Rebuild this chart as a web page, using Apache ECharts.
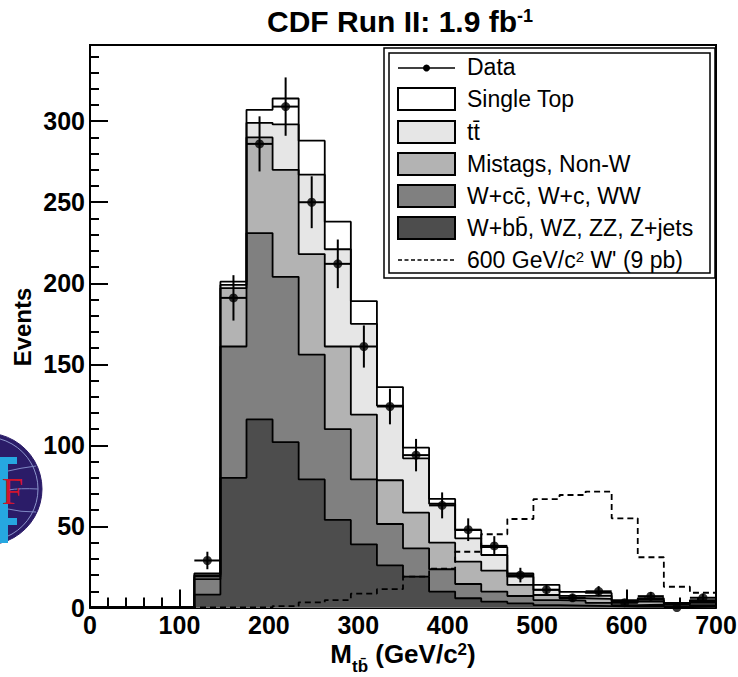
<!DOCTYPE html>
<html>
<head>
<meta charset="utf-8">
<script src="https://cdn.jsdelivr.net/npm/echarts@6/dist/echarts.min.js"></script>
<style>
html, body { margin: 0; padding: 0; background: #fff; }
#chart { width: 738px; height: 677px; }
</style>
</head>
<body>
<div id="chart"></div>
<script>
// Histogram binning: 24 bins over 0–700 GeV/c^2
const binEdges = [0, 29.17, 58.33, 87.5, 116.67, 145.83, 175, 204.17, 233.33, 262.5,
  291.67, 320.83, 350, 379.17, 408.33, 437.5, 466.67, 495.83, 525, 554.17,
  583.33, 612.5, 641.67, 670.83, 700];

// Background contributions per bin (events)
const wbbEtc    = [0, 0, 0, 0, 8, 80, 116, 102, 79, 54, 39, 26, 19, 9.8, 5.7, 3.6, 2.6, 1.5, 1.2, 0.8, 0.5, 0.5, 0.3, 0.4];
const wccEtc    = [0, 0, 0, 0, 9.5, 81, 115, 102, 77, 56, 40, 25.5, 17.5, 13.8, 8.8, 6.2, 4.5, 3.1, 3, 2, 1, 1.2, 0.6, 1];
const mistags   = [0, 0, 0, 0, 1.5, 36, 59, 66, 62, 51, 40, 27, 22, 16.4, 13.8, 12.9, 6.8, 3.1, 1.5, 2.5, 1.5, 2, 1, 1.5];
const ttbar     = [0, 0, 0, 0, 1, 2, 9, 28, 49, 60, 56, 46, 33.5, 24, 14.4, 9.7, 5.1, 3.2, 1.5, 2, 1, 1, 0.5, 1];
const singleTop = [0, 0, 0, 0, 1, 2, 8, 16, 21, 17, 14, 11.5, 6.6, 3, 5, 4.8, 2, 3.1, 2.5, 1.7, 0.6, 1, 0.4, 0.7];

// Observed events and their uncertainties (null = empty bin, no marker)
const dataCounts = [null, null, null, null, 29, 191, 286, 309, 250, 212, 161, 124, 94, 63, 48, 38, 20, 11, 6, 10, 3, 7, 0, 6];
const dataErrors = [0, 0, 0, 0, 5.4, 14, 17, 18, 16, 15, 13, 11, 10, 8, 7, 6, 4.5, 3.3, 2.4, 3.2, 1.7, 2.6, 0, 2.4];

// 600 GeV/c^2 W' signal template (9 pb)
const wPrime = [0, 0, 0, 0, 0, 0, 0, 0.9, 3.2, 4.6, 8.5, 11.3, 19, 24, 34.4, 45.2, 54.6, 66.8, 69.4, 71.5, 55, 31, 12.8, 9.1];

// Axis ticks
const xTicks = [0, 100, 200, 300, 400, 500, 600, 700];
const yTicks = [0, 50, 100, 150, 200, 250, 300];

// Legend entries
const legendLabels = ['Data', 'Single Top', 't{bar|t\u0304}', 'Mistags, Non-W',
  'W+c{bar|c\u0304}, W+c, WW', 'W+b{bar|b\u0304}, WZ, ZZ, Z+jets', "600 GeV/c{sup|2} W' (9 pb)"];

// Stack, bottom component first
const stackComponents = [wbbEtc, wccEtc, mistags, ttbar, singleTop];
const stackFills = ['#4d4d4d', '#808080', '#b3b3b3', '#e6e6e6', '#ffffff'];

const cumulative = [];
stackComponents.forEach((arr, k) => {
  cumulative.push(arr.map((v, i) => v + (k > 0 ? cumulative[k - 1][i] : 0)));
});

function stepPoints(vals) {
  const n = vals.length;
  const pts = [[binEdges[0], 0]];
  vals.forEach((v, i) => pts.push([binEdges[i], v]));
  pts.push([binEdges[n], vals[n - 1]]);
  pts.push([binEdges[n], 0]);
  return pts;
}

const series = [];
// draw the tallest cumulative histogram first so lower layers sit on top
for (let k = stackComponents.length - 1; k >= 0; k--) {
  series.push({
    type: 'line',
    step: 'end',
    z: 2,
    data: stepPoints(cumulative[k]),
    symbol: 'none',
    showSymbol: false,
    lineStyle: { color: '#000', width: 1.8 },
    areaStyle: { color: stackFills[k], opacity: 1 },
    silent: true,
    animation: false
  });
}

series.push({
  type: 'line',
  step: 'end',
  z: 6,
  data: stepPoints(wPrime),
  symbol: 'none',
  showSymbol: false,
  lineStyle: { color: '#000', width: 1.8, type: [6, 4] },
  silent: true,
  animation: false
});

const errRows = [];
const dotRows = [];
dataCounts.forEach((v, i) => {
  if (v === null) return;
  errRows.push([binEdges[i], binEdges[i + 1], v, dataErrors[i]]);
  dotRows.push([(binEdges[i] + binEdges[i + 1]) / 2, v]);
});

series.push({
  type: 'custom',
  z: 8,
  data: errRows,
  encode: { x: [0, 1], y: 2 },
  silent: true,
  animation: false,
  renderItem: function (params, api) {
    const lo = api.value(0), hi = api.value(1), y = api.value(2), e = api.value(3);
    const mid = (lo + hi) / 2;
    const a = api.coord([lo, y]);
    const b = api.coord([hi, y]);
    const t = api.coord([mid, y + e]);
    const d = api.coord([mid, y - e]);
    return {
      type: 'group',
      children: [
        { type: 'line', shape: { x1: a[0], y1: a[1], x2: b[0], y2: b[1] }, style: { stroke: '#000', lineWidth: 2 } },
        { type: 'line', shape: { x1: t[0], y1: t[1], x2: d[0], y2: d[1] }, style: { stroke: '#000', lineWidth: 2 } }
      ]
    };
  }
});

series.push({
  type: 'scatter',
  z: 9,
  data: dotRows,
  symbol: 'circle',
  symbolSize: 9,
  itemStyle: { color: '#000' },
  clip: false,
  silent: true,
  animation: false
});

const FONT = '"Liberation Sans", Arial, Helvetica, sans-serif';

// Legend block
const legendX = 398, legendW = 57, textX = 467;
const rowY = [67, 99, 132, 164, 196, 228, 260];
const legendGraphics = [
  { type: 'rect', shape: { x: 384, y: 48, width: 331, height: 230 }, style: { fill: '#fff', stroke: '#000', lineWidth: 1.5 }, z: 100 },
  { type: 'rect', shape: { x: 389, y: 53, width: 321, height: 220 }, style: { fill: 'none', stroke: '#000', lineWidth: 1.5 }, z: 101 },
  { type: 'line', shape: { x1: legendX, y1: rowY[0] + 1, x2: legendX + legendW, y2: rowY[0] + 1 }, style: { stroke: '#000', lineWidth: 1.5 }, z: 102 },
  { type: 'circle', shape: { cx: legendX + legendW / 2, cy: rowY[0] + 1, r: 3.5 }, style: { fill: '#000' }, z: 102 },
  { type: 'line', shape: { x1: legendX, y1: rowY[6], x2: legendX + legendW, y2: rowY[6] }, style: { stroke: '#000', lineWidth: 1.5, lineDash: [4, 2.5] }, z: 102 }
];
for (let r = 1; r <= 5; r++) {
  legendGraphics.push({
    type: 'rect',
    shape: { x: legendX, y: rowY[r] - 11, width: legendW, height: 22 },
    style: { fill: stackFills[5 - r], stroke: '#000', lineWidth: 2 },
    z: 102
  });
}
legendLabels.forEach((txt, r) => {
  legendGraphics.push({
    type: 'text',
    x: textX, y: rowY[r],
    style: {
      text: txt,
      fill: '#000',
      font: '23px ' + FONT,
      verticalAlign: 'middle',
      align: 'left',
      rich: {
        sup: { fontSize: 15, fontFamily: FONT, verticalAlign: 'top', lineHeight: 14 },
        bar: { fontSize: 23, fontFamily: FONT }
      }
    },
    z: 103
  });
});

// Experiment badge at the left margin
const badge = [
  { type: 'circle', shape: { cx: -14, cy: 489, r: 56 }, style: { fill: '#2b1c68', stroke: '#2b1c68', lineWidth: 1 }, z: 50 },
  { type: 'circle', shape: { cx: -14, cy: 489, r: 52 }, style: { fill: 'none', stroke: '#8d96cc', lineWidth: 1 }, z: 51 },
  { type: 'bezierCurve', shape: { x1: 8, y1: 471, cpx1: 20, cpy1: 468, x2: 36, y2: 466 }, style: { stroke: '#7f88c4', lineWidth: 1, fill: 'none' }, z: 51 },
  { type: 'bezierCurve', shape: { x1: 8, y1: 490, cpx1: 20, cpy1: 488, x2: 38, y2: 489 }, style: { stroke: '#7f88c4', lineWidth: 1, fill: 'none' }, z: 51 },
  { type: 'bezierCurve', shape: { x1: 8, y1: 509, cpx1: 20, cpy1: 512, x2: 36, y2: 512 }, style: { stroke: '#7f88c4', lineWidth: 1, fill: 'none' }, z: 51 },
  { type: 'rect', shape: { x: 0, y: 457, width: 17, height: 7 }, style: { fill: '#26a7e0' }, z: 52 },
  { type: 'rect', shape: { x: 0, y: 457, width: 8, height: 86 }, style: { fill: '#26a7e0' }, z: 52 },
  { type: 'rect', shape: { x: 0, y: 518, width: 17, height: 7 }, style: { fill: '#26a7e0' }, z: 52 },
  { type: 'text', x: 2, y: 491, style: { text: 'F', fill: '#d0142c', font: '38px "Liberation Serif", serif', verticalAlign: 'middle', align: 'left' }, z: 53 }
];

const titles = [
  {
    type: 'text', x: 400, y: 23,
    style: {
      text: '{a|CDF Run II: 1.9 fb}{s|-1}',
      align: 'center', verticalAlign: 'middle',
      rich: {
        a: { fontSize: 30, fontWeight: 'bold', fontFamily: FONT, lineHeight: 33, verticalAlign: 'top', fill: '#000' },
        s: { fontSize: 18, fontWeight: 'bold', fontFamily: FONT, lineHeight: 18, verticalAlign: 'top', fill: '#000' }
      }
    },
    z: 100
  },
  {
    type: 'text', x: 403, y: 656,
    style: {
      text: '{m|M}{sub|tb\u0304}{m| (GeV/c}{sup|2}{m|)}',
      align: 'center', verticalAlign: 'middle',
      rich: {
        m: { fontSize: 26, fontWeight: 'bold', fontFamily: FONT, lineHeight: 30, verticalAlign: 'top', fill: '#000' },
        sub: { fontSize: 17, fontWeight: 'bold', fontFamily: FONT, lineHeight: 17, padding: [17, 0, 0, 0], verticalAlign: 'top', fill: '#000' },
        sup: { fontSize: 17, fontWeight: 'bold', fontFamily: FONT, lineHeight: 17, verticalAlign: 'top', fill: '#000' }
      }
    },
    z: 100
  },
  {
    type: 'text', x: 22, y: 327, rotation: Math.PI / 2,
    style: { text: 'Events', font: 'bold 24px ' + FONT, fill: '#000', align: 'center', verticalAlign: 'middle' },
    z: 100
  }
];

const chart = echarts.init(document.getElementById('chart'), null, { renderer: 'svg' });
chart.setOption({
  animation: false,
  backgroundColor: '#fff',
  grid: {
    left: 90, top: 45, width: 626, height: 562.5,
    show: true, borderColor: '#000', borderWidth: 2, backgroundColor: 'transparent',
    outerBoundsMode: 'none'
  },
  xAxis: {
    type: 'value',
    min: xTicks[0], max: xTicks[xTicks.length - 1], interval: xTicks[1] - xTicks[0],
    axisLine: { show: true, onZero: false, lineStyle: { color: '#000', width: 2 } },
    axisTick: { show: true, inside: true, length: 18, lineStyle: { color: '#000', width: 2 } },
    minorTick: { show: true, splitNumber: 5, length: 10, lineStyle: { color: '#000', width: 2 } },
    splitLine: { show: false },
    axisLabel: { color: '#000', fontSize: 25, fontWeight: 'bold', fontFamily: FONT, margin: 5 }
  },
  yAxis: [
    {
      type: 'value', position: 'left',
      min: yTicks[0], max: 347, interval: yTicks[1] - yTicks[0],
      axisLine: { show: true, onZero: false, lineStyle: { color: '#000', width: 2 } },
      axisTick: { show: true, inside: true, length: 18, lineStyle: { color: '#000', width: 2 } },
      splitLine: { show: false },
      axisLabel: { color: '#000', fontSize: 25, fontWeight: 'bold', fontFamily: FONT, margin: 5, showMaxLabel: false }
    },
    {
      type: 'value', position: 'left',
      min: yTicks[0], max: 347, interval: 10,
      axisLine: { show: false },
      axisTick: { show: true, inside: true, length: 9, lineStyle: { color: '#000', width: 2 } },
      splitLine: { show: false },
      axisLabel: { show: false }
    }
  ],
  series: series,
  graphic: { elements: badge.concat(titles, legendGraphics) }
});
</script>
</body>
</html>
